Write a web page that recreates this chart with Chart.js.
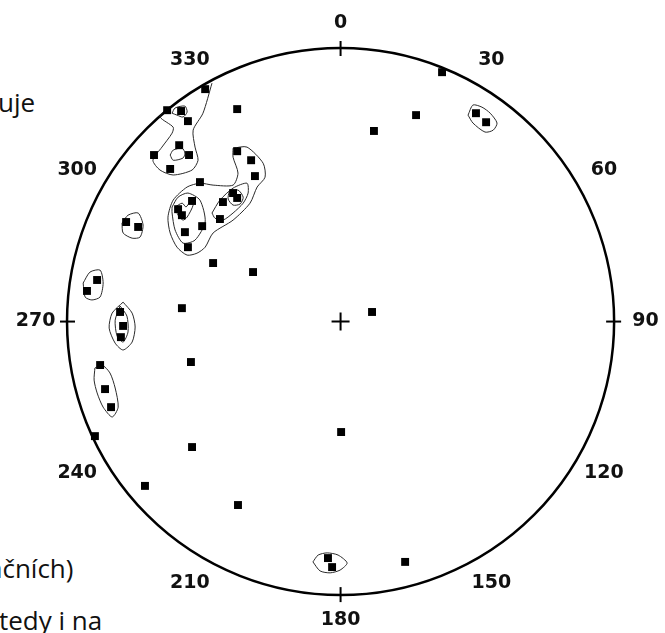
<!DOCTYPE html>
<html>
<head>
<meta charset="utf-8">
<title>Stereonet</title>
<script src="https://cdn.jsdelivr.net/npm/chart.js@4.4.1/dist/chart.umd.min.js"></script>
<style>
    html, body { margin: 0; padding: 0; background: #fff; }
    #wrap { position: relative; width: 665px; height: 633px; overflow: hidden; }
    #net { position: absolute; left: 0; top: 0; }
    .frag {
        position: absolute;
        font-family: "Open Sans", sans-serif;
        font-size: 26px;
        line-height: 1;
        color: #111;
        white-space: nowrap;
    }
</style>
</head>
<body>
<div id="wrap">
    <div class="frag" style="left:-2px; top:89px;">uje</div>
    <div class="frag" style="left:-12px; top:555px;">ačních)</div>
    <div class="frag" style="left:-1px; top:607px;">tedy i na</div>
    <canvas id="net" width="665" height="633"></canvas>
</div>
<script>
'use strict';

// poles, in percent of the net radius (east, north)
var poleEast = [
    -49.5, -63.4, -58.3, -55.8, -37.8, -59.0, -68.2, -55.4, -62.3, -37.8,
    -32.7, -31.3, -51.4, -54.3, -59.4, -58.0, -56.9, -50.6, -55.8, -39.3,
    -37.8, -43.0, -44.1, -46.6, -32.0, -78.4, -74.0, -89.0, -92.7, -58.0,
    -80.6, -79.5, -80.3, -87.9, -86.1, -83.9, -89.8, -54.7, -54.3, -71.5,
    -37.5, 0.2, 11.5, 23.6, -4.6, -3.1, 37.1, 27.6, 12.2, 49.5,
    53.2
];
var poleNorth = [
    85.0, 77.3, 77.0, 73.3, 77.7, 64.5, 60.9, 60.9, 55.8, 62.3,
    59.0, 53.2, 51.0, 44.1, 41.1, 38.9, 32.7, 34.9, 27.2, 47.0,
    45.2, 43.7, 37.5, 21.4, 18.1, 36.4, 34.6, 15.2, 11.2, 4.9,
    3.5, -1.6, -5.7, -15.9, -24.7, -31.3, -41.9, -14.8, -45.9, -60.1,
    -67.1, -40.4, 3.5, -87.9, -86.5, -89.8, 91.2, 75.5, 69.7, 76.2,
    72.9
];

// azimuth ring
var azimuthAngles = [0, 30, 60, 90, 120, 150, 180, 210, 240, 270, 300, 330];
var azimuthLabels = ['0', '30', '60', '90', '120', '150', '180', '210', '240', '270', '300', '330'];

// density contours (east, north), closed unless noted
var contourNW = [ // open, ends on the primitive
    [-47.0, 87.2], [-50.3, 76.2], [-53.9, 70.0], [-53.2, 63.8], [-52.1, 59.0],
    [-54.3, 55.4], [-61.2, 53.6], [-66.0, 55.4], [-68.6, 59.0], [-65.3, 63.8],
    [-61.6, 68.9], [-61.2, 71.1], [-66.0, 74.8], [-64.2, 77.3]
];
var contourNWTop = [
    [-61.6, 76.2], [-60.5, 78.1], [-56.9, 78.8], [-56.1, 76.6], [-57.6, 74.8], [-59.8, 75.5]
];
var contourNWMid = [
    [-62.3, 60.9], [-61.2, 62.7], [-57.9, 63.4], [-56.9, 61.6], [-57.6, 59.8], [-61.2, 59.0]
];
var contourMain = [
    [-39.3, 63.4], [-34.2, 63.8], [-28.3, 57.9], [-27.6, 52.8], [-30.5, 49.2],
    [-33.1, 43.3], [-39.3, 37.1], [-46.6, 32.4], [-49.5, 27.2], [-52.5, 25.0],
    [-56.1, 24.3], [-59.8, 27.2], [-62.3, 32.4], [-63.1, 38.2], [-61.2, 44.4],
    [-56.1, 49.2], [-51.4, 50.6], [-46.6, 49.9], [-39.3, 49.9], [-37.5, 54.3],
    [-39.3, 60.1]
];
var contourMainLeft = [
    [-61.6, 41.9], [-59.4, 45.5], [-55.8, 47.0], [-51.4, 44.4], [-49.5, 36.4],
    [-53.2, 29.8], [-57.6, 28.7], [-60.5, 33.5], [-61.6, 39.7]
];
var contourMainCore = [
    [-60.5, 41.9], [-57.9, 43.3], [-56.5, 41.9], [-55.0, 43.7], [-53.9, 42.6],
    [-56.1, 38.2], [-57.6, 37.1], [-59.4, 38.9]
];
var contourMainRight = [
    [-47.0, 39.7], [-44.1, 44.4], [-39.3, 48.8], [-34.2, 50.6], [-33.8, 47.0],
    [-35.6, 43.3], [-39.3, 39.7], [-43.0, 37.1], [-45.9, 37.8]
];
var contourMainRightCore = [
    [-40.8, 47.3], [-37.5, 48.1], [-35.6, 45.5], [-36.7, 43.0], [-39.3, 42.6], [-41.1, 44.8]
];
var contourW1 = [
    [-79.9, 36.0], [-77.7, 38.9], [-74.0, 39.7], [-72.2, 35.3], [-73.3, 30.9], [-76.2, 30.5], [-79.5, 32.4]
];
var contourW2 = [
    [-94.1, 14.1], [-91.6, 18.1], [-87.9, 18.8], [-86.8, 14.1], [-87.9, 9.0], [-90.9, 7.9], [-93.4, 9.0]
];
var contourW3 = [
    [-79.5, 7.1], [-76.2, 3.1], [-75.1, -2.0], [-76.2, -7.5], [-79.5, -10.4], [-82.4, -7.9], [-84.6, -2.4], [-83.5, 3.1]
];
var contourW3Core = [
    [-80.6, 5.7], [-78.1, 2.0], [-77.7, -3.8], [-79.5, -7.5], [-81.7, -5.3], [-82.4, 0.5]
];
var contourWSW = [
    [-89.8, -17.0], [-87.2, -15.9], [-84.3, -18.8], [-82.4, -24.3], [-81.3, -31.3],
    [-83.5, -34.9], [-86.8, -31.3], [-89.0, -26.1], [-90.1, -21.4]
];
var contourS = [
    [-10.1, -87.9], [-8.2, -85.4], [-4.9, -84.6], [-0.9, -85.4], [2.4, -88.3], [-0.2, -90.9], [-3.8, -91.9], [-7.5, -91.2]
];
var contourNE = [
    [46.6, 75.5], [48.4, 79.2], [51.7, 78.4], [54.7, 76.2], [57.2, 72.6], [55.8, 70.0], [52.8, 69.3], [48.4, 72.6]
];

var closedContours = [
    contourNWTop, contourNWMid, contourMain, contourMainLeft, contourMainCore,
    contourMainRight, contourMainRightCore, contourW1, contourW2, contourW3,
    contourW3Core, contourWSW, contourS, contourNE
];
var openContours = [contourNW];

function toPoints(pairs, close) {
    var pts = pairs.map(function(p) { return {x: p[0], y: p[1]}; });
    if (close) {
        pts.push({x: pairs[0][0], y: pairs[0][1]});
    }
    return pts;
}

var datasets = [{
    label: 'poles',
    data: poleEast.map(function(e, i) { return {x: e, y: poleNorth[i]}; }),
    pointStyle: 'rect',
    pointRadius: 5.6,
    backgroundColor: '#000',
    borderWidth: 0,
    showLine: false
}];

function contourSet(pairs, close) {
    return {
        data: toPoints(pairs, close),
        showLine: true,
        pointRadius: 0,
        borderColor: '#2a2a2a',
        borderWidth: 1,
        tension: 0.25,
        fill: false
    };
}
closedContours.forEach(function(c) { datasets.push(contourSet(c, true)); });
openContours.forEach(function(c) { datasets.push(contourSet(c, false)); });

var netFrame = {
    id: 'netFrame',
    beforeDatasetsDraw: function(chart) {
        var ctx = chart.ctx;
        var xs = chart.scales.x, ys = chart.scales.y;
        var cx = xs.getPixelForValue(0), cy = ys.getPixelForValue(0);
        var r = xs.getPixelForValue(100) - cx;

        ctx.save();
        ctx.strokeStyle = '#000';
        ctx.lineWidth = 2.5;
        ctx.beginPath();
        ctx.arc(cx, cy, r, 0, Math.PI * 2);
        ctx.stroke();

        // ticks at the cardinal points
        ctx.lineWidth = 2;
        [0, 90, 180, 270].forEach(function(a) {
            var t = a * Math.PI / 180;
            var sx = Math.sin(t), sy = -Math.cos(t);
            ctx.beginPath();
            ctx.moveTo(cx + sx * (r - 8), cy + sy * (r - 8));
            ctx.lineTo(cx + sx * (r + 7), cy + sy * (r + 7));
            ctx.stroke();
        });

        // centre cross
        ctx.beginPath();
        ctx.moveTo(cx - 9, cy); ctx.lineTo(cx + 9, cy);
        ctx.moveTo(cx, cy - 9); ctx.lineTo(cx, cy + 9);
        ctx.stroke();

        // azimuth labels
        ctx.fillStyle = '#111';
        ctx.font = 'bold 19px "DejaVu Sans", sans-serif';
        ctx.textAlign = 'center';
        ctx.textBaseline = 'middle';
        azimuthAngles.forEach(function(a, i) {
            var t = a * Math.PI / 180;
            var rr = 109 + Math.abs(Math.sin(t)) * 2.5;
            var lx = xs.getPixelForValue(rr * Math.sin(t));
            var ly = ys.getPixelForValue(rr * Math.cos(t));
            ctx.fillText(azimuthLabels[i], lx, ly);
        });
        ctx.restore();
    }
};

new Chart(document.getElementById('net').getContext('2d'), {
    type: 'scatter',
    data: {datasets: datasets},
    options: {
        responsive: false,
        animation: false,
        events: [],
        layout: {padding: 0, autoPadding: false},
        plugins: {
            legend: {display: false},
            tooltip: {enabled: false}
        },
        scales: {
            x: {type: 'linear', display: false, min: -124.5, max: 118.6},
            y: {type: 'linear', display: false, min: -113.9, max: 117.6}
        }
    },
    plugins: [netFrame]
});
</script>
</body>
</html>
